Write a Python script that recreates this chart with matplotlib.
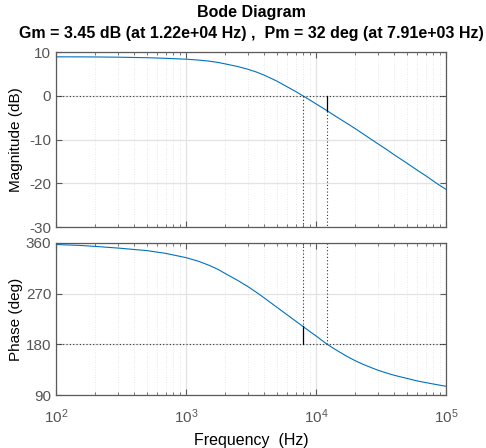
import numpy as np
import matplotlib.pyplot as plt
from matplotlib.ticker import LogLocator, NullFormatter, FixedLocator

plt.rcParams['font.family'] = ['Liberation Sans', 'DejaVu Sans']
plt.rcParams['axes.unicode_minus'] = False

# Frequency response samples (Hz, dB, deg)
freq = [100, 150, 200, 300, 500, 700, 1000, 1250, 1500, 1750, 2000, 2500,
        3000, 3500, 4000, 4500, 5000, 6000, 7000, 7910, 9000, 10000, 11000,
        12200, 13500, 15000, 17500, 20000, 23000, 26700, 30000, 35000,
        40000, 50000, 60000, 70000, 84500, 100000]
mag_db = [8.9, 8.89, 8.87, 8.82, 8.7, 8.56, 8.36, 8.16, 7.92, 7.63, 7.29, 6.68,
          6.05, 5.4, 4.7, 4.0, 3.35, 2.05, 0.95, 0.0, -1.0, -1.85, -2.6,
          -3.45, -4.3, -5.15, -6.4, -7.5, -8.7, -10.0, -11.0, -12.3,
          -13.5, -15.4, -17.0, -18.3, -20.0, -21.4]
phase_deg = [357.3, 355.8, 354, 351, 346.5, 341.5, 334, 327.5, 320.5, 313.5, 305.9, 293.5,
             282.4, 272, 262.4, 253.7, 245.9, 232.4, 221, 212, 202.5, 195, 187.7,
             180, 173.5, 167, 158, 151, 144.5, 138.5, 134, 129,
             125, 119.5, 115, 112, 108.5, 105.5]

# Stability margins
gm_db, gm_freq = 3.45, 1.22e4
pm_deg, pm_freq = 32, 7.91e3

blue = '#0072BD'
spine_c = '#5a5a5a'
tick_c = '#555555'
dot = (0, (1, 2))

fig = plt.figure(figsize=(4.86, 4.48), dpi=100)
ax1 = fig.add_axes([0.1152, 0.4933, 0.8025, 0.3906])
ax2 = fig.add_axes([0.1152, 0.1183, 0.8025, 0.3393])


def style(ax, yticks):
    ax.set_xscale('log')
    ax.set_xlim(1e2, 1e5)
    ax.yaxis.set_major_locator(FixedLocator(yticks))
    ax.set_yticklabels([str(t) for t in yticks])
    ax.xaxis.set_major_locator(LogLocator(base=10, numticks=10))
    ax.xaxis.set_minor_locator(LogLocator(base=10, subs=np.arange(2, 10), numticks=20))
    ax.xaxis.set_minor_formatter(NullFormatter())
    ax.grid(True, which='major', color='#e3e3e3', lw=0.9, ls='-')
    ax.grid(True, which='minor', axis='x', color='#e0e0e0', lw=0.6, ls=dot)
    ax.set_axisbelow(True)
    for s in ax.spines.values():
        s.set_color(spine_c)
        s.set_linewidth(0.9)
    ax.tick_params(which='both', direction='in', top=True, right=True,
                   color=spine_c, labelcolor=tick_c, labelsize=11)
    ax.tick_params(which='major', length=4)
    ax.tick_params(which='minor', length=2.5)


# Magnitude
ax1.plot(freq, mag_db, color=blue, lw=0.8)
ax1.axhline(0, color='#333333', lw=0.8, ls=dot)
ax1.plot([pm_freq, pm_freq], [0, -30], color='#333333', lw=0.8, ls=dot)
ax1.plot([gm_freq, gm_freq], [0, -gm_db], color='black', lw=0.9)
ax1.plot([gm_freq, gm_freq], [-gm_db, -30], color='#333333', lw=0.8, ls=dot)
ax1.set_ylim(-30, 10)
style(ax1, [10, 0, -10, -20, -30])
ax1.set_xticklabels([])
ax1.set_ylabel('Magnitude (dB)', fontsize=11)
ax1.yaxis.set_label_coords(-0.085, 0.5)

# Phase
ax2.plot(freq, phase_deg, color=blue, lw=0.8)
ax2.axhline(180, color='#333333', lw=0.8, ls=dot)
ax2.plot([gm_freq, gm_freq], [360, 180], color='#333333', lw=0.8, ls=dot)
ax2.plot([pm_freq, pm_freq], [360, 180 + pm_deg], color='#333333', lw=0.8, ls=dot)
ax2.plot([pm_freq, pm_freq], [180 + pm_deg, 180], color='black', lw=0.9)
ax2.set_ylim(90, 360)
style(ax2, [90, 180, 270, 360])
ax2.set_ylabel('Phase (deg)', fontsize=11)
ax2.yaxis.set_label_coords(-0.085, 0.5)
ax2.set_xlabel('Frequency  (Hz)', fontsize=11.5, labelpad=5)
ax2.tick_params(axis='x', which='major', pad=9)

xc = 0.1152 + 0.8025 / 2
fig.text(xc, 0.972, 'Bode Diagram', ha='center', va='center',
         fontsize=11.5, fontweight='bold')
fig.text(xc, 0.926, 'Gm = 3.45 dB (at 1.22e+04 Hz) ,  Pm = 32 deg (at 7.91e+03 Hz)',
         ha='center', va='center', fontsize=11.5, fontweight='bold')

fig.savefig('out.png', dpi=100)
